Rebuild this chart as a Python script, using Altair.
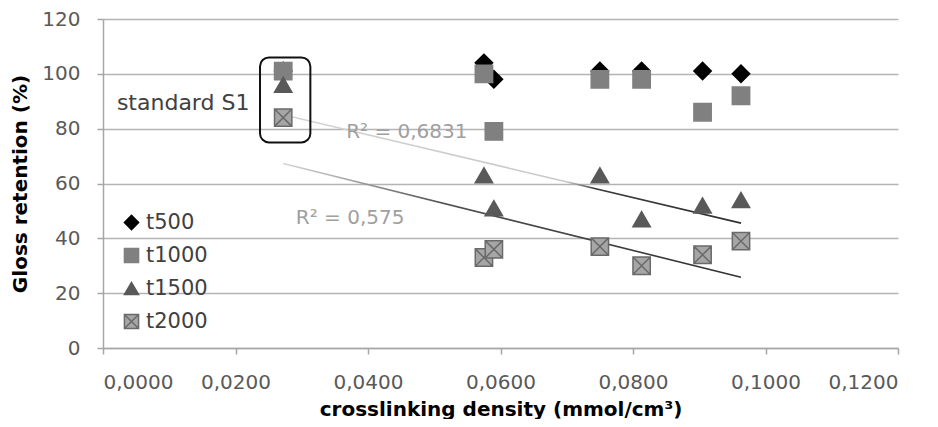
import altair as alt
import pandas as pd

# ---- data ----
density = [0.0272, 0.0575, 0.0590, 0.0750, 0.0813, 0.0905, 0.0963]
t500 = [101, 104, 98, 101, 101, 101, 100]
t1000 = [101, 100, 79, 98, 98, 86, 92]
t1500 = [96, 63, 51, 63, 47, 52, 54]
t2000 = [84, 33, 36, 37, 30, 34, 39]
series_names = ["t500", "t1000", "t1500", "t2000"]

x_ticks = [0.0, 0.02, 0.04, 0.06, 0.08, 0.10, 0.12]
y_ticks = [0, 20, 40, 60, 80, 100, 120]

note_text = ["standard S1", "R\u00b2 = 0,6831", "R\u00b2 = 0,575"]
note_x = [0.0021, 0.0367, 0.0291]
note_y = [89.5, 78.7, 47.3]

box_x = [0.0237]
box_x2 = [0.0313]
box_y = [106.0]
box_y2 = [75.0]

# ---- tables ----
rows = []
for name, vals in zip(series_names, [t500, t1000, t1500, t2000]):
    for d, v in zip(density, vals):
        rows.append({"density": d, "retention": v, "series": name})
df = pd.DataFrame(rows)
notes = pd.DataFrame({"text": note_text, "x": note_x, "y": note_y})
box = pd.DataFrame({"x": box_x, "x2": box_x2, "y": box_y, "y2": box_y2})

FONT = "DejaVu Sans"
xscale = alt.Scale(domain=[0, 0.12], nice=False, zero=False)
yscale = alt.Scale(domain=[0, 120], nice=False)

x_enc = alt.X(
    "density:Q", scale=xscale,
    axis=alt.Axis(
        values=x_ticks, grid=False, title="crosslinking density (mmol/cm\u00b3)",
        labelExpr="replace(format(datum.value, '.4f'), '.', ',')",
        titleY=61, titleBaseline="middle",
    ),
)
y_enc = alt.Y(
    "retention:Q", scale=yscale,
    axis=alt.Axis(values=y_ticks, grid=True, title="Gloss retention (%)",
                  titleX=-83, titleBaseline="middle"),
)

xsquare = "M-1,-1L1,-1L1,1L-1,1Z M-1,-1L1,1 M1,-1L-1,1"

base = alt.Chart(df)

points = base.mark_point(filled=False, size=300, strokeWidth=1.5, opacity=1).encode(
    x=x_enc,
    y=y_enc,
    shape=alt.Shape("series:N", scale=alt.Scale(domain=series_names,
                    range=["diamond", "square", "triangle-up", xsquare]),
                    legend=alt.Legend(title=None, orient="none", legendX=18, legendY=193,
                                      direction="vertical")),
    fill=alt.Fill("series:N", scale=alt.Scale(domain=series_names,
                  range=["#000000", "#808080", "#595959", "#a6a6a6"])),
    stroke=alt.Stroke("series:N", scale=alt.Scale(domain=series_names,
                      range=["#000000", "#808080", "#595959", "#6a6a6a"])),
)

grad_upper = {"gradient": "linear", "x1": 0, "x2": 1, "y1": 0, "y2": 0,
              "stops": [{"offset": 0, "color": "#d4d4d4"}, {"offset": 0.62, "color": "#c8c8c8"},
                        {"offset": 0.68, "color": "#3c3c3c"}, {"offset": 1, "color": "#303030"}]}
grad_lower = {"gradient": "linear", "x1": 0, "x2": 1, "y1": 0, "y2": 0,
              "stops": [{"offset": 0, "color": "#d4d4d4"}, {"offset": 0.1, "color": "#b8b8b8"},
                        {"offset": 0.35, "color": "#505050"}, {"offset": 1, "color": "#303030"}]}

trend1 = base.transform_filter(alt.datum.series == "t1500").transform_regression(
    "density", "retention").mark_line(strokeWidth=1.6, color=grad_upper).encode(
    x=alt.X("density:Q", scale=xscale), y=alt.Y("retention:Q", scale=yscale))
trend2 = base.transform_filter(alt.datum.series == "t2000").transform_regression(
    "density", "retention").mark_line(strokeWidth=1.6, color=grad_lower).encode(
    x=alt.X("density:Q", scale=xscale), y=alt.Y("retention:Q", scale=yscale))

note_layer = alt.Chart(notes).mark_text(align="left", baseline="middle", font=FONT).encode(
    x=alt.X("x:Q", scale=xscale), y=alt.Y("y:Q", scale=yscale), text="text:N",
    color=alt.condition(alt.datum.text == "standard S1", alt.value("#404040"), alt.value("#a0a0a0")),
    size=alt.condition(alt.datum.text == "standard S1", alt.value(22), alt.value(20)),
)

box_layer = alt.Chart(box).mark_rect(filled=False, stroke="#111111", strokeWidth=2,
                                      cornerRadius=9).encode(
    x=alt.X("x:Q", scale=xscale), x2="x2:Q", y=alt.Y("y:Q", scale=yscale), y2="y2:Q")

chart = alt.layer(trend2, trend1, points, box_layer, note_layer).properties(
    width=795, height=329,
    autosize=alt.AutoSizeParams(type="none"),
    padding={"left": 95, "top": 11, "right": 32, "bottom": 71},
).configure_view(stroke=None).configure_axis(
    labelFont=FONT, labelFontSize=20, labelColor="#595959",
    titleFont=FONT, titleFontSize=20, titleFontWeight="bold", titleColor="#000000",
    domainColor="#a6a6a6", domainWidth=1.5, tickColor="#a6a6a6", tickWidth=1.5, tickSize=6,
    gridColor="#b4b4b4", gridWidth=1.5,
).configure_axisX(labelPadding=18).configure_axisY(labelPadding=17).configure_legend(
    labelFont=FONT, labelFontSize=21, labelColor="#404040", symbolSize=200,
    symbolStrokeWidth=1.5, rowPadding=11, labelOffset=4, padding=0,
)

chart.save("out.html", embed_options={"renderer": "svg", "actions": False})
